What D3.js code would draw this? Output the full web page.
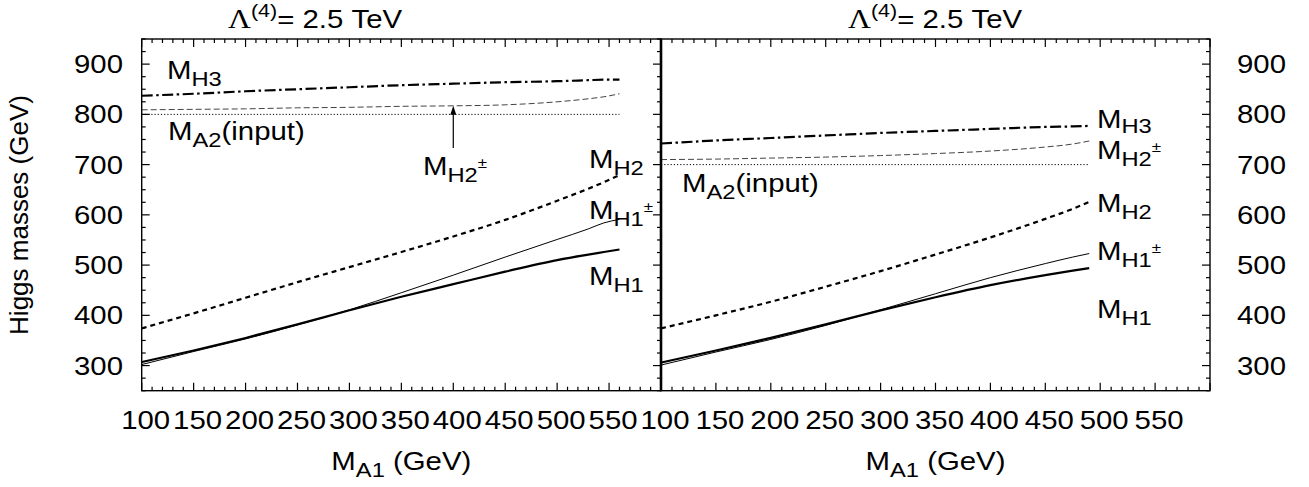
<!DOCTYPE html>
<html><head><meta charset="utf-8">
<script src="https://cdn.jsdelivr.net/npm/d3@7"></script>
<style>body{margin:0;background:#fff}svg text{font-family:"Liberation Sans",Arial,sans-serif;fill:#000}</style>
</head><body>
<svg id="c" width="1309" height="487"></svg>
<script>
// ---------- data ----------
const mA1Left  = [100,150,200,250,300,350,400,450,500,530,545,560];
const leftMH1  = [307,330,355,382,410,437,462,487,510,521,526,531];
const leftMH1c = [302,328,353,381,411,445,480,516,551,572,584,591];
const leftMH2  = [374,404,435,466,496,526,557,590,628,652,665,679];
const leftMH2c = [809,810,811,813,814,816,817,819,825,831,835,841];
const leftMH3  = [837,841,846,850,854,858,861,864,866,868,869,869];
const leftMA2  = [800,800,800,800,800,800,800,800,800,800,800,800];

const mA1Right  = [100,150,200,250,300,350,400,450,475,490];
const rightMH1  = [306,330,355,382,410,436,460,480,489,494];
const rightMH1c = [301,327,352,380,411,443,475,503,516,523];
const rightMH2  = [374,400,427,457,488,521,555,592,612,626];
const rightMH2c = [710,711,713,715,718,722,727,735,741,747];
const rightMH3  = [742,748,753,758,763,767,771,775,776,777];
const rightMA2  = [700,700,700,700,700,700,700,700,700,700];

const xTickLabels = [100,150,200,250,300,350,400,450,500,550];
const yTickLabels = [300,400,500,600,700,800,900];
const titleText = "= 2.5 TeV";
const xLabel = "(GeV)";
const yLabel = "Higgs masses (GeV)";
const arrowLeft = {x:400, from:733, to:817};

// ---------- layout ----------
const SX = 1.13, FS = 26, SUB = 21;
const svg = d3.select('#c');
const yScale = d3.scaleLinear().domain([250,950]).range([390.7,39]);
const panels = [
  {x:d3.scaleLinear().domain([100,600]).range([141.7,661]), xs:mA1Left,
   series:[leftMA2,leftMH2c,leftMH3,leftMH2,leftMH1c,leftMH1], titleX:228, ticksLeft:true, ylabels:'left'},
  {x:d3.scaleLinear().domain([100,600]).range([661,1210]), xs:mA1Right,
   series:[rightMA2,rightMH2c,rightMH3,rightMH2,rightMH1c,rightMH1], titleX:848, ticksLeft:false, ylabels:'right'}
];
const styles = [
  {w:1, dash:'1.2,2', c:'#000'},          // MA2 input dotted
  {w:1, dash:'6,3', c:'#444'},            // MH2± thin dashed
  {w:2.2, dash:'11,3.5,2.5,3.5', c:'#000'}, // MH3 dash-dot
  {w:2.2, dash:'5,4', c:'#000'},          // MH2 thick dashed
  {w:1, dash:null, c:'#000'},             // MH1± thin
  {w:2.2, dash:null, c:'#000'}            // MH1 thick
];

function T(x,y,anchor){
  return svg.append('text').attr('transform',`translate(${x},${y}) scale(${SX},1)`)
    .attr('text-anchor',anchor||'start').attr('font-size',FS);
}
function mlabel(x,y,sub,sup,rest,sd){
  sd = sd||7;
  const t=T(x,y); t.append('tspan').text('M');
  t.append('tspan').attr('font-size',SUB).attr('dy',sd).text(sub);
  if(sup) t.append('tspan').attr('font-size',15).attr('dy',-14).text(sup);
  if(rest) t.append('tspan').attr('font-size',FS).attr('dy',sup?7:-sd).text(rest);
  return t;
}

panels.forEach((p,pi)=>{
  const g = svg.append('g');
  const [x0,x1]=p.x.range(), [y1,y0]=yScale.range();
  // curves
  p.series.forEach((s,i)=>{
    const st=styles[i];
    const line=d3.line().x((d,j)=>p.x(p.xs[j])).y(d=>yScale(d)).curve(d3.curveMonotoneX);
    g.append('path').attr('d',line(s)).attr('fill','none').attr('stroke',st.c)
     .attr('stroke-width',st.w).attr('stroke-dasharray',st.dash);
  });
  // border
  g.append('rect').attr('x',x0).attr('y',y0).attr('width',x1-x0).attr('height',y1-y0)
   .attr('fill','none').attr('stroke','#000').attr('stroke-width',1.4);
  // x ticks
  d3.range(100,601,10).forEach(v=>{
    const L = v%50===0?8:4, X=p.x(v);
    g.append('line').attr('x1',X).attr('x2',X).attr('y1',y1).attr('y2',y1-L).attr('stroke','#000').attr('stroke-width',1.2);
    g.append('line').attr('x1',X).attr('x2',X).attr('y1',y0).attr('y2',y0+L).attr('stroke','#000').attr('stroke-width',1.2);
  });
  // y ticks
  d3.range(250,951,25).forEach(v=>{
    const L = v%100===0?8:4, Y=yScale(v);
    if(p.ticksLeft) g.append('line').attr('x1',x0).attr('x2',x0+L).attr('y1',Y).attr('y2',Y).attr('stroke','#000').attr('stroke-width',1.2);
    g.append('line').attr('x1',x1).attr('x2',x1-L).attr('y1',Y).attr('y2',Y).attr('stroke','#000').attr('stroke-width',1.2);
  });
  // x tick labels
  xTickLabels.forEach(v=>{ T(p.x(v)+4,429,'middle').text(v); });
  // y tick labels
  yTickLabels.forEach(v=>{
    if(p.ylabels==='left') T(123,yScale(v)+9,'end').text(v);
    else T(1237,yScale(v)+9,'start').text(v);
  });
  // title
  const t=T(p.titleX,28);
  t.append('tspan').attr('font-family','Liberation Serif').attr('font-size',28).text('Λ');
  t.append('tspan').attr('font-size',19).attr('dy',-11).text('(4)');
  t.append('tspan').attr('font-size',FS).attr('dy',11).text(titleText);
  // x label
  const xl=T((x0+x1)/2,470,'middle');
  xl.append('tspan').text('M');
  xl.append('tspan').attr('font-size',SUB).attr('dy',7).text('A1');
  xl.append('tspan').attr('font-size',FS).attr('dy',-7).text(' '+xLabel);
});
// divider emphasis
svg.append('line').attr('x1',661).attr('x2',661).attr('y1',39).attr('y2',390.7).attr('stroke','#000').attr('stroke-width',2.6);

// y label
svg.append('text').attr('transform','translate(28,215) rotate(-90)').attr('text-anchor','middle')
  .attr('font-size',FS).text(yLabel);

// arrow in left panel
{
  const p=panels[0], X=p.x(arrowLeft.x), yA=yScale(arrowLeft.from), yB=yScale(arrowLeft.to);
  svg.append('line').attr('x1',X).attr('x2',X).attr('y1',yA).attr('y2',yB+7).attr('stroke','#000').attr('stroke-width',1.2);
  svg.append('path').attr('d',`M${X},${yB} L${X-3},${yB+9} L${X+3},${yB+9} Z`).attr('fill','#000');
}

// curve labels, left panel
mlabel(167,79,'H3');
mlabel(168,140,'A2',null,'(input)');
mlabel(423,175,'H2','±');
mlabel(589,168,'H2');
mlabel(589,219,'H1','±');
mlabel(589,285,'H1');
// right panel
mlabel(1097,128,'H3',null,null,5);
mlabel(1097,159,'H2','±');
mlabel(682,192,'A2',null,'(input)');
mlabel(1097,212,'H2');
mlabel(1097,260,'H1','±');
mlabel(1097,318,'H1');
</script>
</body></html>
